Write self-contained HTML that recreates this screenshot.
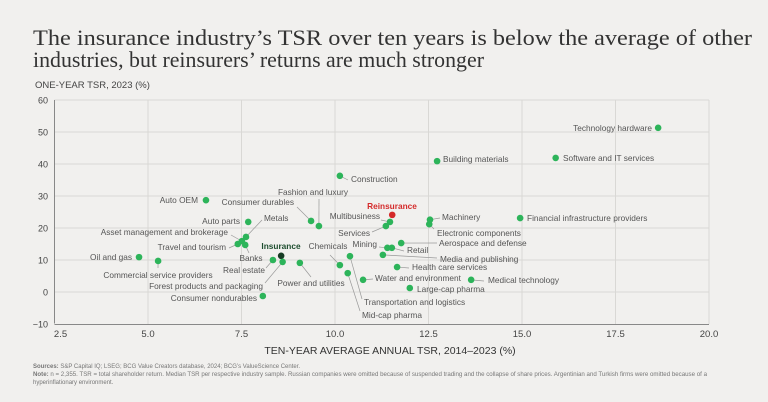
<!DOCTYPE html>
<html><head><meta charset="utf-8"><style>
html,body{margin:0;padding:0;background:#f1f0ee;}
body{width:768px;height:402px;overflow:hidden;font-family:"Liberation Sans",sans-serif;}
svg{display:block}
</style></head><body>
<svg id="chart" width="768" height="402">
<rect width="768" height="402" fill="#f1f0ee"/>
<text x="33" y="45" font-family="Liberation Serif,serif" font-size="22.5" textLength="719" lengthAdjust="spacingAndGlyphs" fill="#333">The insurance industry’s TSR over ten years is below the average of other</text>
<text x="33" y="67" font-family="Liberation Serif,serif" font-size="22.5" textLength="451" lengthAdjust="spacingAndGlyphs" fill="#333">industries, but reinsurers’ returns are much stronger</text>
<text x="35" y="88" font-size="9.5" fill="#444">ONE-YEAR TSR, 2023 (%)</text>
<g id="grid"></g><g id="axes"></g><g id="leaders"></g><g id="dots"></g><g id="labels"></g>
<text x="390" y="354" text-anchor="middle" font-size="10.5" fill="#333">TEN-YEAR AVERAGE ANNUAL TSR, 2014–2023 (%)</text>
<text x="33" y="368" font-size="6" fill="#777"><tspan font-weight="bold">Sources:</tspan> S&amp;P Capital IQ; LSEG; BCG Value Creators database, 2024; BCG’s ValueScience Center.</text>
<text x="33" y="376" font-size="6" fill="#777" textLength="674" lengthAdjust="spacingAndGlyphs"><tspan font-weight="bold">Note:</tspan> n = 2,355. TSR = total shareholder return. Median TSR per respective industry sample. Russian companies were omitted because of suspended trading and the collapse of share prices. Argentinian and Turkish firms were omitted because of a</text>
<text x="33" y="384" font-size="6" fill="#777">hyperinflationary environment.</text>
</svg>
<script>
const xTicks=[2.5,5,7.5,10,12.5,15,17.5,20];
const xTickLabels=["2.5","5.0","7.5","10.0","12.5","15.0","17.5","20.0"];
const yTicks=[-10,0,10,20,30,40,50,60];
const yTickLabels=["−10","0","10","20","30","40","50","60"];
const industries=["Technology hardware","Software and IT services","Building materials","Construction","Auto OEM","Financial infrastructure providers","Reinsurance","Machinery","Electronic components","Multibusiness","Services","Fashion and luxury","Consumer durables","Auto parts","Metals","Asset management and brokerage","Travel and tourism","Banks","Aerospace and defense","Mining","Retail","Media and publishing","Insurance","Chemicals","Transportation and logistics","Mid-cap pharma","Oil and gas","Commercial service providers","Real estate","Forest products and packaging","Power and utilities","Health care services","Water and environment","Medical technology","Large-cap pharma","Consumer nondurables"];
const tenYearTSR=[18.64,15.9,12.73,10.13,6.55,14.95,11.53,12.54,12.52,11.47,11.36,9.57,9.36,7.68,7.62,7.51,7.4,7.6,11.77,11.4,11.52,11.28,8.56,10.13,10.4,10.34,4.76,5.27,8.34,8.6,9.06,11.66,10.75,13.64,12.0,8.07];
const oneYearTSR=[51.3,41.9,40.9,36.3,28.7,23.1,24.1,22.6,21.2,21.9,20.6,20.6,22.2,21.9,17.2,15.9,15.0,14.7,15.3,13.8,13.8,11.6,11.3,8.4,11.2,5.9,10.9,9.7,10.0,9.4,9.1,7.8,3.8,3.8,1.25,-1.25];
// label layout: [x, y, anchor, leaderStartX, leaderStartY] (null = no leader)
const labelLayout=[[652,131,"end",null],[563,161,"start",null],[443,162,"start",null],[351,182,"start",348,180],[198,203,"end",null],[527,221,"start",null],[392,209,"middle",null],[442,220,"start",440,218],[437,236,"start",434,229],[380,219,"end",381,220],[370,236,"end",372,232],[313,195,"middle",319,199],[294,205,"end",297,207],[240,224,"end",null],[264,221,"start",262,220],[228,235,"end",231,235],[226,250,"end",229,248],[251,261,"middle",249,253],[439,246,"start",437,243],[377,247,"end",379,247],[407,253,"start",404,251],[440,262,"start",437,258],[281,249,"middle",null],[328,249,"middle",330,255],[364,305,"start",362,299],[362,318,"start",360,311],[132,260,"end",null],[158,278,"middle",158,268],[265,273,"end",266,268],[263,289,"end",265,283],[311,286,"middle",311,277],[412,270,"start",409,268],[375,281,"start",373,279],[488,283,"start",484,281],[417,292,"start",null],[257,301,"end",null]];
const X0=54.5,PX=37.4,Y0=292,PY=3.2;
function xs(v){return X0+(v-2.5)*PX;}
function ys(v){return Y0-v*PY;}
const NS="http://www.w3.org/2000/svg";
function mk(tag,attrs,parent){const e=document.createElementNS(NS,tag);for(const k in attrs)e.setAttribute(k,attrs[k]);document.getElementById(parent).appendChild(e);return e;}
xTicks.forEach((t,i)=>{
  if(i>0){const g=mk("line",{x1:xs(t),x2:xs(t),y1:ys(60),y2:ys(-10),stroke:"#d9d8d5","stroke-width":1},"grid");
  
  }
  const l=mk("text",{x:xs(t)+(i==0?6:0),y:337,"text-anchor":"middle","font-size":9.5,fill:"#444"},"axes");l.textContent=xTickLabels[i];
  
  
});
yTicks.forEach((t,i)=>{
  if(t>-10){const g=mk("line",{x1:X0,x2:xs(20),y1:ys(t),y2:ys(t),stroke:"#d9d8d5","stroke-width":1},"grid");
  
  }
  const l=mk("text",{x:48,y:ys(t)+3.5,"text-anchor":"end","font-size":9,fill:"#444"},"axes");l.textContent=yTickLabels[i];
  
  
});
const ya=mk("line",{x1:X0,x2:X0,y1:ys(60),y2:ys(-10)-0.5,stroke:"#888","stroke-width":1},"axes");


const xa=mk("line",{x1:X0,x2:xs(20),y1:ys(-10)+0.5,y2:ys(-10)+0.5,stroke:"#888","stroke-width":1},"axes");


industries.forEach((n,i)=>{
  const cx=xs(tenYearTSR[i]),cy=ys(oneYearTSR[i]);
  const L=labelLayout[i];
  let col="#2db45a",tcol="#555",fw="normal";
  if(n==="Reinsurance"){col="#d42a2a";tcol="#d42a2a";fw="bold";}
  if(n==="Insurance"){col="#173b24";tcol="#1d4d2e";fw="bold";}
  if(L[3]!=null){const ln=mk("line",{x1:L[3],y1:L[4],x2:cx,y2:cy,stroke:"#999","stroke-width":0.7},"leaders");
    
    }
  const d=mk("circle",{cx:cx,cy:cy,r:3.3,fill:col},"dots");
  
  
  const t=mk("text",{x:L[0],y:L[1],"text-anchor":L[2],"font-size":8.3,fill:tcol,"font-weight":fw},"labels");
  t.textContent=n;
  
  
});
</script>
</body></html>
